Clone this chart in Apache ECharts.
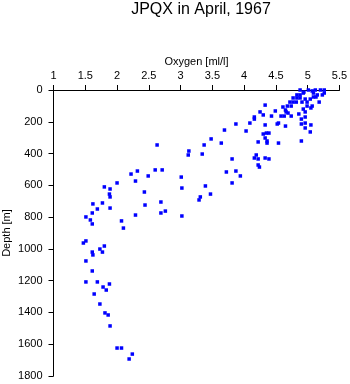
<!DOCTYPE html>
<html>
<head>
<meta charset="utf-8">
<script src="https://cdn.jsdelivr.net/npm/echarts@6/dist/echarts.min.js"></script>
<style>html,body{margin:0;padding:0;background:#fff}#c{width:350px;height:384px}</style>
</head>
<body>
<div id="c"></div>
<script>
const titleText = "JPQX in April, 1967";
const xName = "Oxygen [ml/l]";
const yName = "Depth [m]";
const xTicks = [1, 1.5, 2, 2.5, 3, 3.5, 4, 4.5, 5, 5.5];
const yTicks = [0, 200, 400, 600, 800, 1000, 1200, 1400, 1600, 1800];

const oxygen = [
4.88,4.94,5.01,5.07,5.12,5.20,5.26,4.83,4.88,4.93,5.09,5.15,5.23,5.26,4.77,4.83,4.88,5.09,5.13,4.96,
5.04,4.72,4.77,4.82,4.91,4.99,5.07,4.99,5.18,4.61,4.68,4.74,4.65,4.66,4.69,4.49,4.43,4.63,4.58,4.74,
4.86,4.90,4.93,4.96,5.05,4.33,4.25,4.30,4.16,4.16,4.96,4.54,4.65,4.90,4.96,5.05,4.96,5.04,3.87,4.09,
4.33,4.52,3.69,4.03,4.30,4.35,4.39,4.33,4.36,4.36,4.22,4.54,4.90,3.48,3.37,3.64,3.13,3.12,3.34,3.81,
4.16,4.22,4.19,4.33,4.39,4.22,4.24,3.87,3.94,3.72,3.01,3.39,3.81,3.02,3.47,3.31,3.29,2.63,2.71,2.60,
2.49,2.32,2.22,2.29,2.00,1.80,1.89,1.88,1.89,1.77,1.89,2.43,2.44,2.69,2.69,2.76,2.29,3.02,1.62,1.69,
1.61,1.51,1.58,1.61,2.07,2.10,1.51,1.47,1.80,1.73,1.77,1.61,1.62,1.51,1.61,1.51,1.69,1.88,1.78,1.83,
1.64,1.73,1.81,1.86,1.89,2.00,2.07,2.24,2.19
];
const depth = [
0,13,0,6,0,0,0,31,31,19,19,31,31,19,50,50,50,44,44,57,
57,76,76,76,76,76,101,101,76,107,101,101,126,138,145,132,164,164,164,164,
151,183,120,138,113,95,138,157,170,183,170,208,227,214,208,220,239,264,214,208,
220,214,252,258,277,271,271,302,321,334,327,334,321,308,346,334,384,409,403,434,
428,434,409,428,434,472,485,510,541,516,548,604,585,617,655,673,692,346,503,503,
541,510,529,573,585,610,623,655,673,711,743,642,724,705,774,762,787,793,717,749,
774,799,818,843,824,869,950,963,982,1001,1020,1020,1038,1076,1139,1208,1208,1221,1240,1259,
1284,1347,1403,1416,1485,1624,1624,1662,1693
];

const points = oxygen.map((v, i) => [v, depth[i]]);

const chart = echarts.init(document.getElementById('c'), null, {renderer: 'canvas'});
const font = '"Liberation Sans", Arial, Helvetica, sans-serif';
chart.setOption({
  animation: false,
  backgroundColor: '#ffffff',
  title: {
    text: titleText,
    left: 196, top: -3, textAlign: 'center',
    textStyle: {fontFamily: font, fontSize: 16, fontWeight: 'normal', color: '#000'}
  },
  grid: {left: 53.5, right: 10.5, top: 90, bottom: 8, containLabel: false, outerBoundsMode: 'none'},
  xAxis: {
    type: 'value', position: 'top',
    min: xTicks[0], max: xTicks[xTicks.length - 1], interval: 0.5,
    name: xName, nameLocation: 'middle', nameGap: 23, nameMoveOverlap: false,
    nameTextStyle: {fontFamily: font, fontSize: 11, color: '#000'},
    axisLine: {show: true, onZero: false, lineStyle: {color: '#000', width: 1}},
    axisTick: {show: true, inside: false, length: 5, lineStyle: {color: '#000'}},
    axisLabel: {fontFamily: font, fontSize: 11, color: '#000', margin: 9,
      formatter: v => String(v)},
    splitLine: {show: false}
  },
  yAxis: {
    type: 'value', inverse: true,
    min: yTicks[0], max: yTicks[yTicks.length - 1], interval: 200,
    name: yName, nameLocation: 'middle', nameGap: 41, nameRotate: 90, nameMoveOverlap: false,
    nameTextStyle: {fontFamily: font, fontSize: 11, color: '#000'},
    axisLine: {show: true, onZero: false, lineStyle: {color: '#000', width: 1}},
    axisTick: {show: true, inside: false, length: 5, lineStyle: {color: '#000'}},
    axisLabel: {fontFamily: font, fontSize: 11, color: '#000', margin: 11,
      formatter: v => String(v)},
    splitLine: {show: false}
  },
  series: [{
    type: 'scatter',
    data: points,
    symbol: 'rect',
    symbolSize: 3.5,
    itemStyle: {color: '#0000ff', opacity: 1},
    clip: false
  }]
});
</script>
</body>
</html>
